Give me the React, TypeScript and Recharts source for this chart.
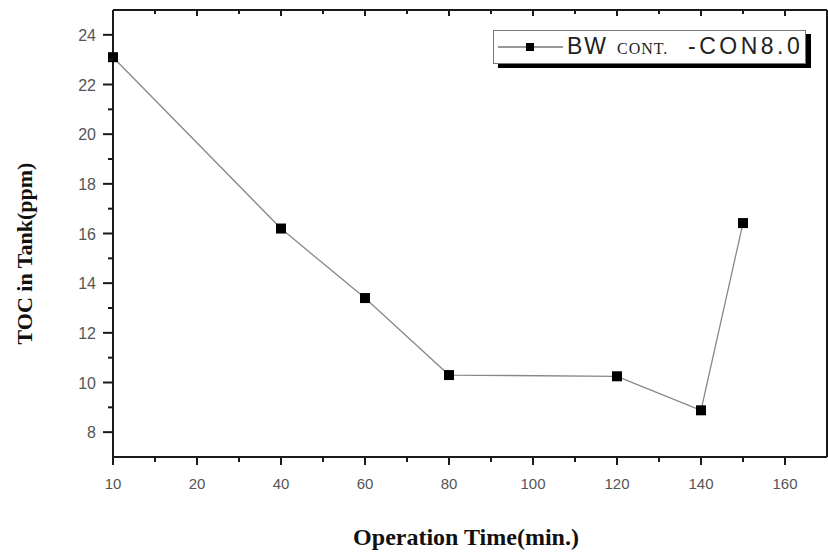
import { LineChart, Line, XAxis, YAxis } from "recharts";

// operation time positions as plotted (the original axis labels its origin "10")
const time = [0, 40, 60, 80, 120, 140, 150];
const toc = [23.1, 16.2, 13.4, 10.3, 10.25, 8.88, 16.42];

const xMajor = [0, 20, 40, 60, 80, 100, 120, 140, 160];
const xTickLabels = ["10", "20", "40", "60", "80", "100", "120", "140", "160"];
const xMinor = [10, 30, 50, 70, 90, 110, 130, 150];
const yMajor = [8, 10, 12, 14, 16, 18, 20, 22, 24];
const yMinor = [9, 11, 13, 15, 17, 19, 21, 23];

const data = time.map((t, i) => ({ t, toc: toc[i] }));
const xTicks = [...xMajor, ...xMinor].sort((a, b) => a - b);
const yTicks = [...yMajor, ...yMinor].sort((a, b) => a - b);

const AXIS = "#1a1a1a";
const TICK_FONT = "'Liberation Sans', Arial, sans-serif";
const TITLE_FONT = "'Liberation Serif', 'Times New Roman', serif";

function BottomTick({ x, y, payload }: any) {
  const idx = xMajor.indexOf(payload.value);
  const major = idx >= 0;
  return (
    <g>
      <line x1={x} x2={x} y1={y} y2={y + (major ? 8 : 5)} stroke={AXIS} strokeWidth={2} />
      {major && (
        <text x={x} y={y + 32} textAnchor="middle" fontSize={15} fill="#555" fontFamily={TICK_FONT}>
          {xTickLabels[idx]}
        </text>
      )}
    </g>
  );
}

function TopTick({ x, y, payload }: any) {
  const major = xMajor.includes(payload.value);
  return <line x1={x} x2={x} y1={y} y2={y + (major ? 6 : 4)} stroke={AXIS} strokeWidth={2} />;
}

function LeftTick({ x, y, payload }: any) {
  const major = yMajor.includes(payload.value);
  return (
    <g>
      <line x1={x} x2={x - (major ? 10 : 5)} y1={y} y2={y} stroke={AXIS} strokeWidth={2} />
      {major && (
        <text x={x - 17} y={y + 6} textAnchor="end" fontSize={16} fill="#555" fontFamily={TICK_FONT}>
          {payload.value}
        </text>
      )}
    </g>
  );
}

function RightTick({ x, y, payload }: any) {
  const major = yMajor.includes(payload.value);
  return <line x1={x} x2={x - (major ? 7 : 4)} y1={y} y2={y} stroke={AXIS} strokeWidth={2} />;
}

function SquareDot({ cx, cy }: any) {
  return <rect x={cx - 5} y={cy - 5} width={10} height={10} fill="#000" />;
}

function YTitle({ viewBox }: any) {
  const cx = 24;
  const cy = viewBox.y + viewBox.height / 2 + 20;
  return (
    <text
      x={cx}
      y={cy}
      transform={`rotate(-90 ${cx} ${cy})`}
      textAnchor="middle"
      dominantBaseline="central"
      fontSize={22}
      fontWeight="bold"
      fontFamily={TITLE_FONT}
      fill="#111"
    >
      TOC in Tank(ppm)
    </text>
  );
}

function XTitle({ viewBox }: any) {
  return (
    <text
      x={viewBox.x + viewBox.width / 2 - 4}
      y={545}
      textAnchor="middle"
      fontSize={24}
      fontWeight="bold"
      fontFamily={TITLE_FONT}
      fill="#111"
    >
      Operation Time(min.)
    </text>
  );
}

function LegendBox() {
  return (
    <div
      style={{
        position: "absolute",
        left: 493,
        top: 30,
        width: 311,
        height: 32,
        border: "1px solid #777",
        background: "#fff",
        boxShadow: "5px 4px 0 #000",
      }}
    >
      <svg width={70} height={32} style={{ position: "absolute", left: 3, top: 0 }}>
        <line x1={1} x2={66} y1={16} y2={16} stroke="#333" strokeWidth={1} />
        <rect x={29} y={12} width={8} height={8} fill="#000" />
      </svg>
      <span style={{ position: "absolute", left: 73, top: 2, fontFamily: TICK_FONT, fontSize: 23, letterSpacing: 2, color: "#222" }}>
        BW
      </span>
      <span style={{ position: "absolute", left: 123, top: 9, fontFamily: TITLE_FONT, fontSize: 16, letterSpacing: 1, color: "#222" }}>
        CONT.
      </span>
      <span style={{ position: "absolute", left: 194, top: 2, fontFamily: TICK_FONT, fontSize: 23, letterSpacing: 3.5, color: "#222" }}>
        -CON8.0
      </span>
    </div>
  );
}

export default function App() {
  return (
    <div style={{ position: "absolute", left: 0, top: 0, width: 828, height: 554, background: "#fff" }}>
      <LineChart width={828} height={554} data={data} margin={{ top: 0, right: 0, bottom: 0, left: 0 }}>
        <XAxis
          xAxisId="bottom"
          dataKey="t"
          type="number"
          domain={[0, 170]}
          ticks={xTicks}
          interval={0}
          height={97}
          tickSize={0}
          tickMargin={0}
          tickLine={false}
          axisLine={{ stroke: AXIS, strokeWidth: 2 }}
          tick={<BottomTick />}
          label={<XTitle />}
        />
        <XAxis
          xAxisId="top"
          orientation="top"
          dataKey="t"
          type="number"
          domain={[0, 170]}
          ticks={xTicks}
          interval={0}
          height={10}
          tickSize={0}
          tickMargin={0}
          tickLine={false}
          axisLine={{ stroke: AXIS, strokeWidth: 2 }}
          tick={<TopTick />}
        />
        <YAxis
          yAxisId="left"
          type="number"
          domain={[7, 25]}
          ticks={yTicks}
          interval={0}
          width={113}
          tickSize={0}
          tickMargin={0}
          tickLine={false}
          axisLine={{ stroke: AXIS, strokeWidth: 2 }}
          tick={<LeftTick />}
          label={<YTitle />}
        />
        <YAxis
          yAxisId="right"
          orientation="right"
          type="number"
          domain={[7, 25]}
          ticks={yTicks}
          interval={0}
          width={1}
          tickSize={0}
          tickMargin={0}
          tickLine={false}
          axisLine={{ stroke: AXIS, strokeWidth: 2 }}
          tick={<RightTick />}
        />
        <Line
          xAxisId="bottom"
          yAxisId="left"
          type="linear"
          dataKey="toc"
          stroke="#888"
          strokeWidth={1.3}
          dot={<SquareDot />}
          activeDot={false}
          isAnimationActive={false}
        />
      </LineChart>
      <LegendBox />
    </div>
  );
}
